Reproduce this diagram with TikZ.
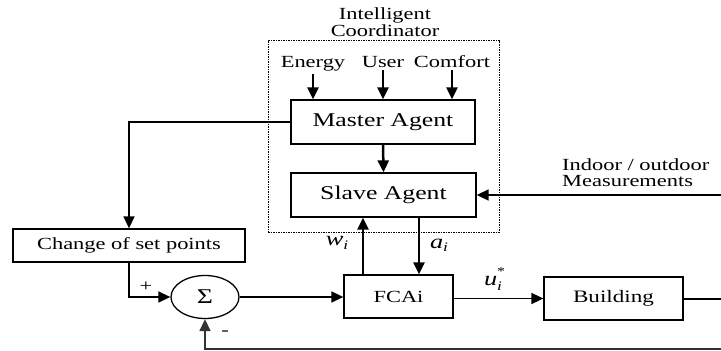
\documentclass[tikz,border=0pt]{standalone}
\usepackage{fontspec}
\setmainfont{Liberation Serif}[FakeStretch=1.32]
\usetikzlibrary{arrows.meta,shapes.geometric}
\begin{document}
\begin{tikzpicture}[x=1pt,y=-1pt,
  every node/.style={font=\fontsize{17}{17}\selectfont, inner sep=0pt},
  blk/.style={draw, line width=1.3pt, fill=white},
  big/.style={font=\fontsize{19.5}{19.5}\selectfont},
  arr/.style={line width=1.6pt, -{Triangle[length=12pt,width=11pt]}},
  tarr/.style={line width=2.5pt, -{Triangle[length=12pt,width=11pt]}},
  lbl/.style={font=\fontsize{20}{20}\selectfont\itshape}]
\useasboundingbox (0,0) rectangle (721,351);
% Intelligent coordinator
\node[align=center, font=\fontsize{17}{17}\selectfont] (title) at (385,22) {Intelligent\\Coordinator};
\node[draw, line width=1pt, dash pattern=on 1.5pt off 1pt, minimum width=231pt, minimum height=192pt] (ic) at (383.5,136) {};
\node[anchor=base] (energy) at (313,67) {Energy};
\node[anchor=base] (user) at (383,67) {User};
\node[anchor=base] (comfort) at (452,67) {Comfort};
\node[blk, big, minimum width=184pt, minimum height=44pt] (master) at (383,122) {Master Agent};
\node[blk, big, minimum width=185pt, minimum height=44pt] (slave) at (383.5,195) {Slave Agent};
\draw[tarr] (energy.south) ++(0,3) -- (master.north -| energy);
\draw[tarr] (user.south) ++(0,3) -- (master.north -| user);
\draw[tarr] (comfort.south) ++(0,3) -- (master.north -| comfort);
\draw[tarr] (master) ++(0,22) -- (slave.north);
% measurements
\node[align=left, anchor=north west, font=\fontsize{17}{16}\selectfont] (meas) at (562,159) {Indoor / outdoor\\Measurements};
\coordinate (min) at (721,195);
\draw[arr] (min) -- (slave.east);
% lower loop
\node[blk, minimum width=232pt, minimum height=33pt] (change) at (129,245.5) {Change of set points};
\node[draw, ellipse, line width=1.3pt, minimum width=68pt, minimum height=43pt, font=\fontsize{21}{21}\selectfont] (sigma) at (205,297) {Σ};
\node[blk, minimum width=109pt, minimum height=43pt] (fcai) at (398.5,296.5) {FCAi};
\node[blk, minimum width=139pt, minimum height=43pt, font=\fontsize{17.5}{17.5}\selectfont] (bld) at (613.5,298.5) {Building};
\draw[arr] (master.west) -| (change.north);
\draw[arr] (change.south) |- (sigma.west);
\draw[arr] (sigma.east) -- (sigma.east -| fcai.west);
\draw[arr] (fcai.east |- bld.west) -- (bld.west);
\coordinate (wx) at (363,0);
\coordinate (ax) at (419,0);
\draw[tarr] (fcai.north -| wx) -- (slave.south -| wx);
\draw[tarr] (slave.south -| ax) -- (fcai.north -| ax);
\coordinate (fb1) at (721,298.5);
\coordinate (fb2) at (721,349);
\draw[line width=2pt] (bld.east) -- (fb1);
\draw[arr, draw=black!80] (fb2) -| (sigma.south);
% labels
\node (plus) at (146,287) {+};
\node (minus) at (225,333) {-};
\node[lbl] (wl) at (337,243) {w\raisebox{-0.35ex}{\fontsize{13}{13}\selectfont i}};
\node[lbl] (al) at (439,245) {a\raisebox{-0.35ex}{\fontsize{13}{13}\selectfont i}};
\node[lbl] (ul) at (493,279) {u\rlap{\raisebox{1.1ex}{\fontsize{12}{12}\selectfont\upshape *}}\raisebox{-0.45ex}{\fontsize{13}{13}\selectfont i}};
\end{tikzpicture}
\end{document}
